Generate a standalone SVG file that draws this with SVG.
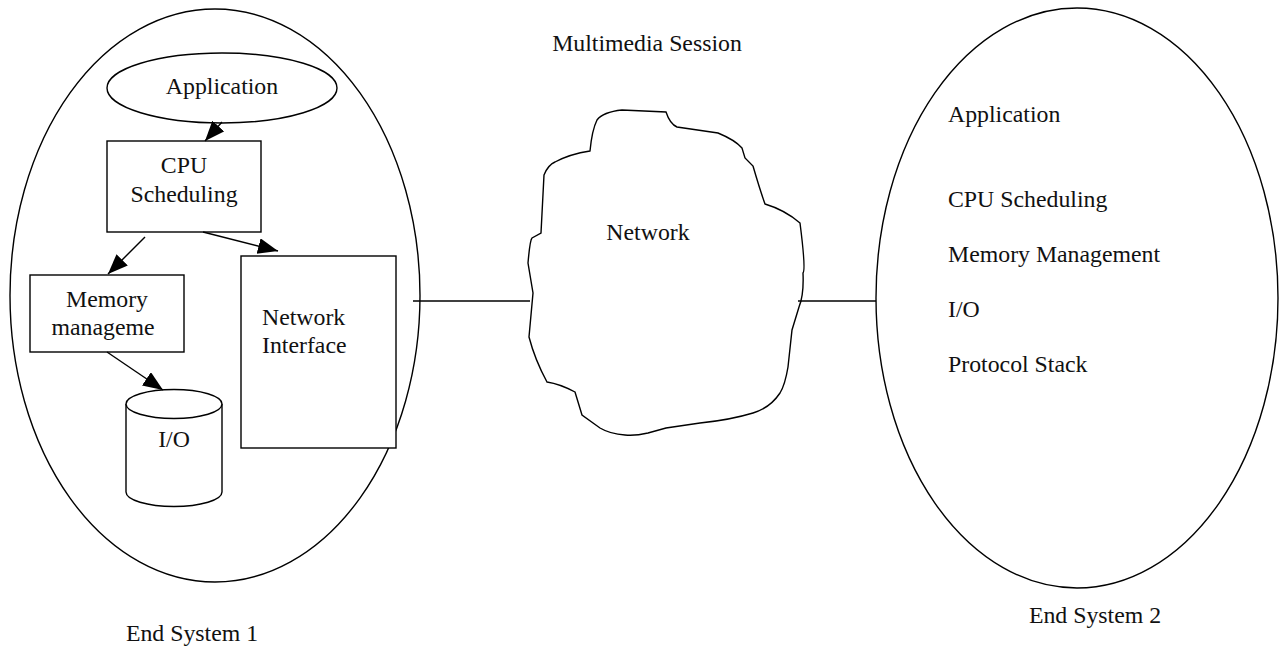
<svg xmlns="http://www.w3.org/2000/svg" width="1280" height="650" viewBox="0 0 1280 650">
<style>
.s{fill:none;stroke:#000;stroke-width:1.4}
.w{fill:#fff;stroke:#000;stroke-width:1.4}
text{font-family:"Liberation Serif","Times New Roman",serif;font-size:23.8px;fill:#111}
.c{text-anchor:middle}
</style>
<defs>
<marker id="ah" markerUnits="userSpaceOnUse" markerWidth="22" markerHeight="18" refX="20" refY="8" orient="auto">
<path d="M0,0 L20,8 L0,16 Z" fill="#000"/>
</marker>
</defs>
<rect width="1280" height="650" fill="#fff"/>
<g id="end-system-1">
<ellipse class="s" cx="215" cy="295.5" rx="205" ry="286.5"/>
<text class="c" x="192" y="641">End System 1</text>
</g>
<g id="application">
<ellipse class="w" cx="222" cy="88" rx="115" ry="35"/>
<text class="c" x="222" y="94">Application</text>
</g>
<g id="cpu-scheduling">
<rect class="w" x="107" y="141" width="154" height="91"/>
<text class="c" x="184" y="173">CPU</text>
<text class="c" x="184" y="202">Scheduling</text>
</g>
<g id="memory">
<rect class="w" x="30" y="275" width="154" height="77"/>
<text class="c" x="107" y="307">Memory</text>
<text class="c" x="103" y="335">manageme</text>
</g>
<g id="network-interface">
<rect class="w" x="241" y="256" width="155" height="192"/>
<text x="262" y="325">Network</text>
<text x="262" y="353">Interface</text>
</g>
<g id="io">
<path class="w" d="M126,404 L126,492 A48,14.5 0 0 0 222,492 L222,404"/>
<ellipse class="w" cx="174" cy="404" rx="48" ry="14.5"/>
<text class="c" x="174" y="447">I/O</text>
</g>
<g id="network">
<path class="w" d="M622,110 L666,112 Q670,124 677,127 L718,133 Q735,140 742,148 L745,158 L753,166 Q760,190 765,204 Q785,210 800,223 Q806,270 803,273 Q804,295 799,307 Q795,320 792,330 L788,367 Q785,385 780,393 Q770,408 753,413 Q730,420 700,423 L666,428 L648,433 Q635,436 625,435 Q610,434 600,428 L582,415 L575,392 Q560,384 547,382 Q535,360 529,337 L533,293 L528,263 Q530,240 532,238 L541,233 L544,175 Q548,165 555,162 Q570,154 590,151 Q592,130 597,120 Q603,112 622,110 Z"/>
<text class="c" x="648" y="240">Network</text>
</g>
<g id="end-system-2">
<ellipse class="s" cx="1077" cy="298" rx="201" ry="290"/>
<text x="948" y="122">Application</text>
<text x="948" y="207">CPU Scheduling</text>
<text x="948" y="262">Memory Management</text>
<text x="948" y="317">I/O</text>
<text x="948" y="372">Protocol Stack</text>
<text class="c" x="1095" y="623">End System 2</text>
</g>
<g id="session-label">
<text class="c" x="647" y="51">Multimedia Session</text>
</g>
<g id="connectors">
<line class="s" x1="222" y1="122" x2="205" y2="141" marker-end="url(#ah)"/>
<line class="s" x1="145" y1="237" x2="108" y2="274" marker-end="url(#ah)"/>
<line class="s" x1="203" y1="232" x2="278" y2="251" marker-end="url(#ah)"/>
<line class="s" x1="107" y1="352" x2="163" y2="390" marker-end="url(#ah)"/>
<line class="s" x1="413" y1="301" x2="530" y2="301"/>
<line class="s" x1="798" y1="301" x2="876" y2="301"/>
</g>
</svg>
